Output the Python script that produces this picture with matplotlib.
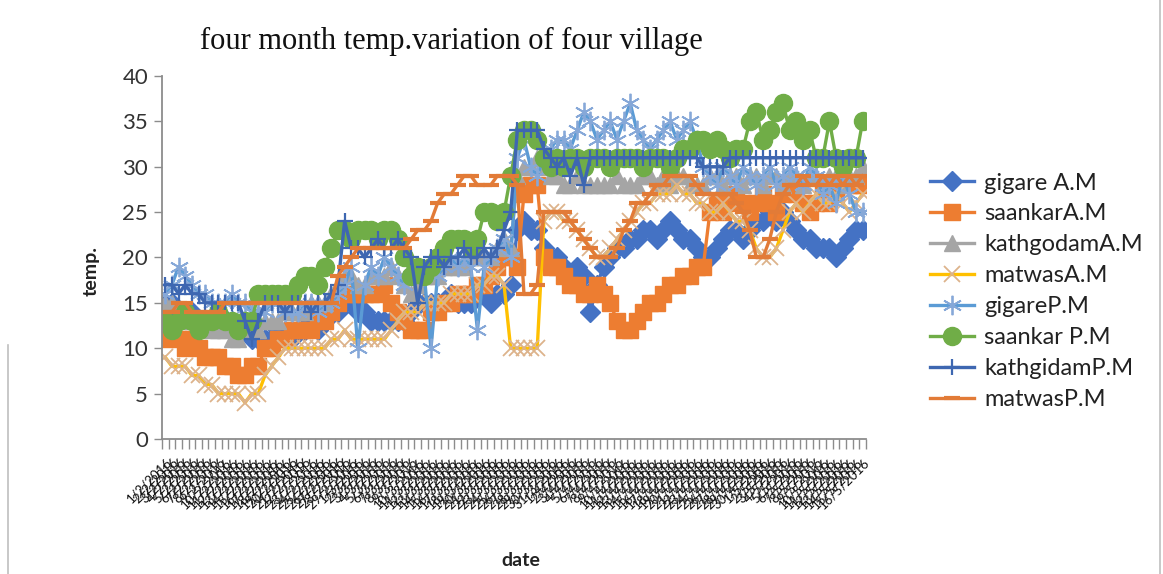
import numpy as np
import pandas as pd
import matplotlib
matplotlib.use("Agg")
import matplotlib.pyplot as plt
from matplotlib.lines import Line2D

# ---- data -------------------------------------------------------------
dates = pd.date_range("2016-02-01", periods=106, freq="D")
date_labels = [f"{d.day}/{d.month}/{d.year}" for d in dates]

gigare_am = [15, 15, 14, 14, 14, 13, 13, 13, 14, 13,
             13, 12, 12, 11, 11, 11, 11, 12, 11, 11,
             12, 12, 13, 12, 13, 14, 14, 15, 15, 14,
             14, 13, 13, 13, 13, 13, 13, 14, 15, 15,
             15, 15, 15, 16, 15, 15, 15, 16, 16, 15,
             16, 16, 17, 23, 24, 23, 23, 21, 20, 20,
             19, 18, 19, 18, 14, 17, 19, 20, 21, 21,
             22, 22, 23, 23, 22, 23, 24, 23, 22, 22,
             21, 20, 20, 21, 22, 23, 23, 22, 23, 24,
             24, 25, 24, 25, 24, 23, 22, 22, 21, 21,
             21, 20, 21, 22, 23, 23]

saankar_am = [11, 12, 11, 10, 11, 10, 9, 9, 9, 8,
              8, 7, 7, 8, 8, 10, 10, 11, 11, 12,
              12, 12, 12, 13, 13, 14, 15, 16, 16, 16,
              16, 16, 16, 17, 15, 14, 13, 12, 12, 12,
              14, 14, 15, 15, 16, 16, 16, 17, 17, 18,
              19, 20, 20, 19, 27, 28, 28, 20, 19, 19,
              18, 17, 17, 16, 16, 17, 16, 15, 13, 12,
              12, 13, 14, 15, 15, 16, 17, 17, 18, 18,
              19, 19, 25, 26, 25, 26, 27, 26, 25, 26,
              27, 26, 25, 27, 28, 27, 26, 25, 26, 27,
              26, 27, 28, 28, 28, 28]

kathgodam_am = [15, 15, 14, 14, 13, 13, 13, 12, 12, 12,
                11, 11, 12, 12, 12, 13, 13, 13, 14, 14,
                14, 14, 15, 15, 15, 16, 17, 18, 18, 17,
                17, 18, 18, 18, 19, 18, 17, 16, 17, 18,
                18, 18, 19, 19, 19, 19, 20, 20, 20, 20,
                21, 22, 21, 29, 30, 30, 31, 30, 29, 29,
                28, 28, 29, 28, 28, 28, 28, 28, 29, 28,
                28, 28, 29, 29, 28, 29, 28, 29, 29, 28,
                28, 28, 29, 29, 28, 29, 29, 28, 29, 29,
                28, 29, 29, 28, 29, 29, 28, 29, 29, 28,
                29, 29, 28, 29, 29, 30]

matwas_am = [9, 8, 8, 8, 7, 7, 6, 6, 5, 5,
             5, 5, 4, 5, 5, 7, 8, 9, 10, 10,
             10, 10, 10, 10, 10, 11, 11, 12, 11, 11,
             11, 11, 11, 11, 12, 13, 14, 14, 14, 15,
             15, 15, 15, 16, 16, 16, 16, 17, 17, 18,
             18, 17, 10, 10, 10, 10, 10, 24, 25, 25,
             24, 24, 23, 22, 21, 20, 20, 21, 22, 23,
             24, 25, 26, 26, 27, 27, 27, 28, 27, 27,
             26, 26, 25, 25, 26, 25, 24, 24, 23, 21,
             20, 20, 21, 23, 25, 26, 25, 26, 27, 26,
             26, 27, 26, 25, 26, 27]

gigare_pm = [16, 17, 19, 18, 17, 16, 16, 15, 15, 15,
             16, 15, 15, 14, 14, 14, 15, 15, 14, 14,
             14, 15, 15, 14, 15, 15, 16, 17, 19, 10,
             17, 19, 18, 20, 19, 18, 17, 18, 19, 18,
             10, 18, 19, 20, 19, 20, 19, 12, 19, 20,
             21, 22, 20, 31, 33, 30, 29, 31, 32, 33,
             33, 32, 34, 36, 35, 33, 34, 35, 33, 35,
             37, 34, 33, 32, 33, 34, 35, 33, 34, 35,
             33, 30, 29, 28, 30, 29, 28, 30, 29, 28,
             29, 30, 28, 29, 30, 29, 28, 30, 29, 27,
             28, 26, 29, 27, 25, 25]

saankar_pm = [13, 12, 13, 14, 13, 12, 13, 13, 14, 13,
              13, 12, 13, 13, 16, 16, 16, 16, 16, 16,
              17, 18, 18, 17, 19, 21, 23, 23, 22, 23,
              23, 23, 22, 23, 23, 22, 20, 18, 19, 18,
              19, 20, 21, 22, 22, 22, 21, 22, 25, 25,
              24, 25, 29, 33, 34, 34, 33, 31, 30, 31,
              30, 31, 31, 30, 31, 31, 31, 30, 31, 31,
              31, 31, 30, 31, 31, 31, 30, 31, 32, 32,
              33, 33, 32, 33, 32, 31, 32, 32, 35, 36,
              33, 34, 36, 37, 34, 35, 33, 34, 31, 31,
              35, 31, 30, 31, 31, 35]

kathgidam_pm = [17, 17, 16, 17, 16, 16, 15, 15, 15, 15,
                15, 15, 13, 11, 13, 15, 15, 15, 14, 15,
                15, 15, 14, 15, 15, 16, 17, 24, 21, 21,
                20, 21, 22, 21, 21, 22, 21, 20, 15, 19,
                20, 20, 19, 20, 20, 21, 20, 20, 21, 20,
                21, 23, 25, 34, 34, 34, 34, 32, 31, 30,
                31, 29, 31, 28, 31, 31, 31, 31, 31, 31,
                31, 31, 31, 31, 31, 31, 31, 31, 31, 31,
                31, 30, 30, 30, 30, 31, 31, 31, 31, 31,
                31, 31, 31, 31, 31, 31, 31, 31, 31, 31,
                31, 31, 31, 31, 31, 31]

matwas_pm = [14, 14, 15, 15, 14, 14, 14, 14, 14, 15,
             15, 15, 15, 15, 15, 15, 15, 15, 15, 15,
             15, 15, 15, 15, 15, 15, 18, 19, 20, 21,
             21, 21, 21, 21, 21, 21, 21, 22, 23, 23,
             24, 26, 27, 27, 28, 29, 29, 28, 28, 28,
             29, 29, 29, 28, 16, 16, 17, 25, 25, 25,
             25, 24, 23, 22, 21, 20, 20, 20, 21, 23,
             24, 26, 26, 27, 28, 28, 29, 29, 29, 29,
             28, 27, 27, 27, 27, 27, 26, 25, 23, 20,
             20, 22, 25, 27, 28, 28, 29, 28, 28, 29,
             28, 29, 28, 29, 28, 29]

series_names = ["gigare A.M", "saankarA.M", "kathgodamA.M", "matwasA.M",
                "gigareP.M", "saankar P.M", "kathgidamP.M", "matwasP.M"]
series_values = [gigare_am, saankar_am, kathgodam_am, matwas_am,
                 gigare_pm, saankar_pm, kathgidam_pm, matwas_pm]

# ---- styles -----------------------------------------------------------
styles = [
    dict(color="#4472C4", marker="D", ms=10, mfc="#4472C4", mec="#4472C4", mew=1),
    dict(color="#ED7D31", marker="s", ms=11, mfc="#ED7D31", mec="#ED7D31", mew=1),
    dict(color="#A5A5A5", marker="^", ms=12, mfc="#A5A5A5", mec="#A5A5A5", mew=1),
    dict(color="#FFC000", marker="x", ms=12, mfc="none", mec="#DDB38B", mew=1.3),
    dict(color="#5B9BD5", marker=(6, 2, 0), ms=14, mfc="none", mec="#86A8D8", mew=1.3),
    dict(color="#70AD47", marker="o", ms=13, mfc="#70AD47", mec="#70AD47", mew=1),
    dict(color="#3E67B1", marker="+", ms=11, mfc="none", mec="#3E67B1", mew=1.6),
    dict(color="#E27B37", marker="_", ms=11, mfc="none", mec="#E27B37", mew=3),
]

plt.rcParams["font.family"] = ["Lato", "DejaVu Sans"]

fig = plt.figure(figsize=(11.63, 5.74), dpi=100)
ax = fig.add_axes([0.1393, 0.2352, 0.6053, 0.6324])

x = np.arange(len(date_labels))
for name, vals, st in zip(series_names, series_values, styles):
    ax.plot(x, vals, label=name, lw=2.4, color=st["color"], marker=st["marker"],
            markersize=st["ms"], markerfacecolor=st["mfc"],
            markeredgecolor=st["mec"], markeredgewidth=st["mew"])

n = len(date_labels)
ax.set_xlim(-0.5, n - 0.5)
ax.set_ylim(0, 40)
ax.set_yticks(np.arange(0, 41, 5))

# category boundaries carry the tick marks, category centres carry labels
ax.set_xticks(np.arange(n + 1) - 0.5)
ax.set_xticklabels([])
ax.set_xticks(x, minor=True)
ax.set_xticklabels(date_labels, minor=True, rotation=45, ha="right",
                   rotation_mode="anchor", fontsize=9.5, color="#111111")
ax.tick_params(axis="x", which="major", length=7, width=1, color="#8C8C8C",
               direction="out")
ax.tick_params(axis="x", which="minor", length=0, pad=12)
ax.tick_params(axis="y", length=6, width=1, color="#8C8C8C", labelsize=16,
               labelcolor="#333333", pad=4)

for side in ["top", "right"]:
    ax.spines[side].set_visible(False)
for side in ["left", "bottom"]:
    ax.spines[side].set_color("#8C8C8C")
    ax.spines[side].set_linewidth(1.3)

ax.set_ylabel("temp.", fontsize=14, fontweight="bold", color="#222222")
ax.yaxis.set_label_coords(-0.088, 0.463)
ax.set_xlabel("date", fontsize=14, fontweight="bold", color="#222222")
ax.xaxis.set_label_coords(0.51, -0.31)

fig.text(0.388, 0.927, "four month temp.variation of four village",
         ha="center", va="center", fontsize=22, family="Liberation Serif",
         color="#111111")

leg = ax.legend(loc="upper left", bbox_to_anchor=(1.077, 0.76), frameon=False,
                fontsize=17, handlelength=1.9, labelspacing=0.42,
                handletextpad=0.4, borderaxespad=0)
for t in leg.get_texts():
    t.set_color("#222222")

# chart frame edges
fig.add_artist(Line2D([1160 / 1163, 1160 / 1163], [0, 1], transform=fig.transFigure,
                      color="#BFBFBF", lw=1.2))
fig.add_artist(Line2D([8 / 1163, 8 / 1163], [0, 1 - 345 / 574], transform=fig.transFigure,
                      color="#BFBFBF", lw=1.2))

fig.savefig("out.png", dpi=100, facecolor="white")
